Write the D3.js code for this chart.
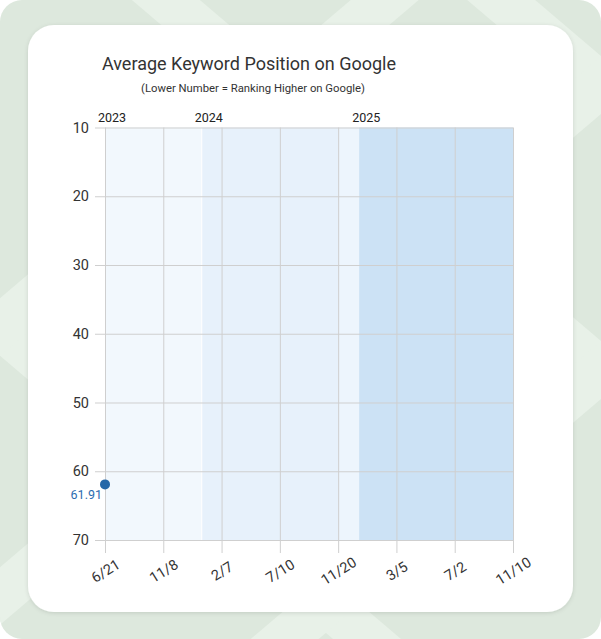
<!DOCTYPE html>
<html>
<head>
<meta charset="utf-8">
<script src="https://cdn.jsdelivr.net/npm/d3@7"></script>
<style>
  html, body { margin: 0; padding: 0; background: #fff; }
  svg { display: block; font-family: Roboto, "Open Sans", sans-serif; }
</style>
</head>
<body>
<svg id="chart" width="601" height="639"></svg>
<script>
// x categories (dates shown on the axis)
const dateLabels = ["6/21", "11/8", "2/7", "7/10", "11/20", "3/5", "7/2", "11/10"];
const yTicks = [10, 20, 30, 40, 50, 60, 70];

// series: average position, indexed on the date categories
const pointIndex = [0];
const pointValues = [61.91];

// year shading, start/end given as position along the category index
const years = ["2023", "2024", "", "2025"];
const yearStart = [0, 1.66, 4, 4.36];
const yearEnd = [1.66, 4, 4.36, 7];
const yearFill = ["#f2f8fd", "#e7f1fb", "#edf5fd", "#cce2f5"];
const yearLabelShown = [true, true, false, true];

const margins = { top: 127.5, bottom: 99, left: 105, right: 88 };
const W = 601, H = 639;

const svg = d3.select("#chart");

// --- background decoration
const defs = svg.append("defs");
defs.append("clipPath").attr("id", "bgclip")
  .append("rect").attr("width", W).attr("height", H).attr("rx", 22);
const sh = defs.append("filter").attr("id", "shadow")
  .attr("x", "-10%").attr("y", "-10%").attr("width", "120%").attr("height", "120%");
sh.append("feDropShadow").attr("dx", 0).attr("dy", 1).attr("stdDeviation", 2)
  .attr("flood-color", "#000").attr("flood-opacity", 0.12);

const bg = svg.append("g").attr("clip-path", "url(#bgclip)");
bg.append("rect").attr("width", W).attr("height", H).attr("fill", "#dde8dd");
// light diagonal stripes
const slope = 0.85;
const stripesDown = [-426, -141, 327];
const stripesUp = [327, 596, 881];
stripesDown.forEach(c => {
  bg.append("path")
    .attr("d", `M-50,${c - 50 * slope} L${W + 50},${c + (W + 50) * slope}`)
    .attr("stroke", "#e8f1e8").attr("stroke-width", 44).attr("fill", "none");
});
stripesUp.forEach(c => {
  bg.append("path")
    .attr("d", `M-50,${c + 50 * slope} L${W + 50},${c - (W + 50) * slope}`)
    .attr("stroke", "#e8f1e8").attr("stroke-width", 44).attr("fill", "none");
});

// card
svg.append("rect")
  .attr("x", 28).attr("y", 25).attr("width", 545).attr("height", 587)
  .attr("rx", 26).attr("fill", "#fff").attr("filter", "url(#shadow)");

// --- scales
const graphWidth = W - margins.left - margins.right;
const graphHeight = H - margins.top - margins.bottom;

const scaleX = d3.scaleLinear()
  .domain([0, dateLabels.length - 1])
  .range([margins.left, margins.left + graphWidth]);
const scaleY = d3.scaleLinear()
  .domain([10, 70])
  .range([margins.top, margins.top + graphHeight]);

// year bands
svg.append("g").selectAll("rect")
  .data(years)
  .enter()
  .append("rect")
  .attr("x", (d, i) => scaleX(yearStart[i]))
  .attr("y", scaleY(10))
  .attr("width", (d, i) => scaleX(yearEnd[i]) - scaleX(yearStart[i]))
  .attr("height", scaleY(70) - scaleY(10))
  .attr("fill", (d, i) => yearFill[i]);
// thin white seam at the 2024 start
svg.append("line")
  .attr("x1", scaleX(yearStart[1])).attr("x2", scaleX(yearStart[1]))
  .attr("y1", scaleY(10)).attr("y2", scaleY(70))
  .attr("stroke", "#fff").attr("stroke-width", 1);

svg.append("g").selectAll("text")
  .data(years.filter((d, i) => yearLabelShown[i]))
  .enter()
  .append("text")
  .attr("x", d => scaleX(yearStart[years.indexOf(d)]) - 7)
  .attr("y", 121.5)
  .attr("font-size", 12.5)
  .attr("fill", "#222")
  .text(d => d);

// --- axes
const yAxis = d3.axisLeft(scaleY)
  .tickValues(yTicks)
  .tickSize(graphWidth + 10)
  .tickPadding(6);
const gy = svg.append("g")
  .attr("transform", `translate(${margins.left + graphWidth},0)`)
  .call(yAxis);
gy.select(".domain").remove();
gy.selectAll("line").attr("stroke", "#cfcfcf");
gy.selectAll("text").attr("font-size", 14.5).attr("fill", "#333")
  .attr("font-family", "Roboto, sans-serif");

const xAxis = d3.axisBottom(scaleX)
  .tickValues(d3.range(dateLabels.length))
  .tickFormat(i => dateLabels[i])
  .tickSize(graphHeight + 13);
const gx = svg.append("g")
  .attr("transform", `translate(0,${margins.top})`)
  .call(xAxis);
gx.select(".domain").remove();
gx.selectAll("line").attr("stroke", "#cfcfcf");
gx.selectAll("text")
  .attr("font-size", 14.5).attr("fill", "#333")
  .attr("font-family", "Roboto, sans-serif")
  .attr("text-anchor", "middle")
  .attr("dy", 0)
  .attr("y", graphHeight + 36)
  .attr("transform", `rotate(-32,0,${graphHeight + 31})`);

// --- points
const pts = svg.append("g");
pts.selectAll("circle")
  .data(pointValues)
  .enter()
  .append("circle")
  .attr("cx", (d, i) => scaleX(pointIndex[i]))
  .attr("cy", d => scaleY(d))
  .attr("r", 5)
  .attr("fill", "#2467a8");
pts.selectAll("text")
  .data(pointValues)
  .enter()
  .append("text")
  .attr("x", (d, i) => scaleX(pointIndex[i]) - 3)
  .attr("y", d => scaleY(d) + 15)
  .attr("text-anchor", "end")
  .attr("font-size", 12.5)
  .attr("fill", "#2b6cb0")
  .text(d => d.toFixed(2));

// --- titles
svg.append("text")
  .attr("x", 249).attr("y", 70)
  .attr("text-anchor", "middle")
  .attr("font-size", 18)
  .attr("fill", "#333")
  .text("Average Keyword Position on Google");
svg.append("text")
  .attr("x", 253).attr("y", 92)
  .attr("text-anchor", "middle")
  .attr("font-size", 11.3)
  .attr("fill", "#333")
  .text("(Lower Number = Ranking Higher on Google)");
</script>
</body>
</html>
